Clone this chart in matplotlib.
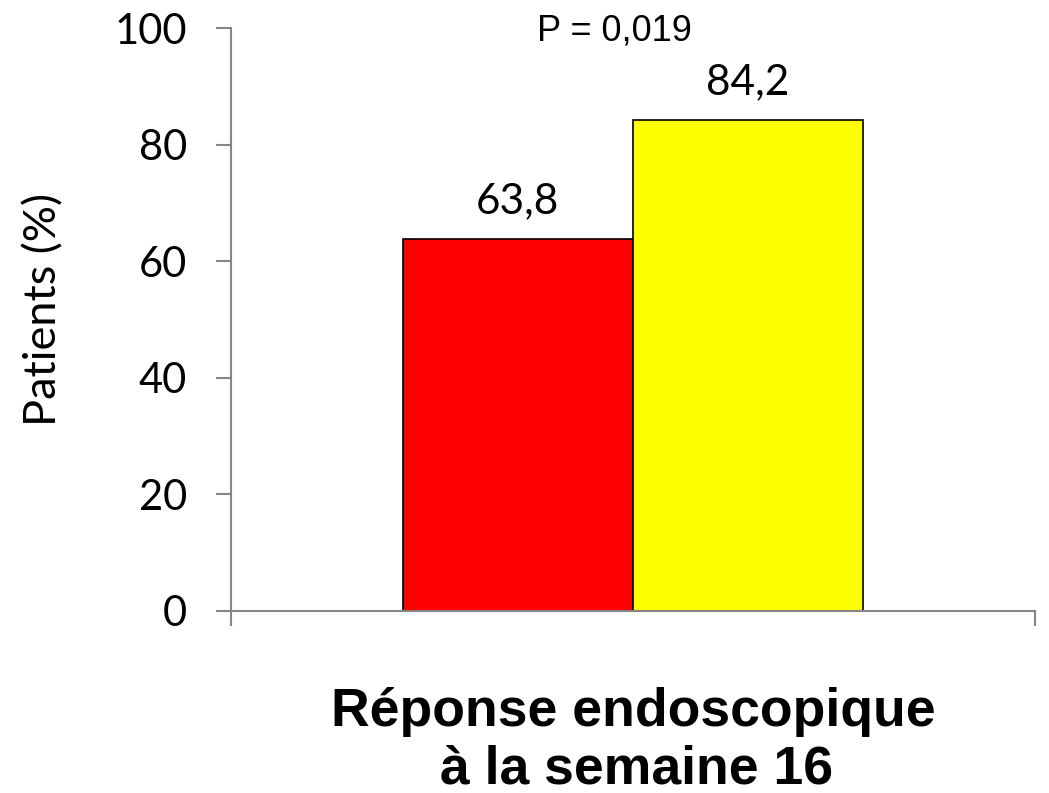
import matplotlib
matplotlib.use("Agg")
import matplotlib.pyplot as plt

# Data
groups = ["Groupe A", "Groupe B"]
values = [63.8, 84.2]
value_labels = ["63,8", "84,2"]
colors = ["#FF0000", "#FFFF00"]
yticks = [0, 20, 40, 60, 80, 100]
p_text = "P = 0,019"
xlabel_lines = ["Réponse endoscopique", "à la semaine 16"]
ylabel = "Patients (%)"

W, H, DPI = 1049, 793, 100
fig = plt.figure(figsize=(W / DPI, H / DPI), dpi=DPI)
ax = fig.add_axes([231 / W, (H - 610.7) / H, (1035 - 231) / W, (610.7 - 28) / H])

bar_w = 0.2865
centers = [0.5 - bar_w / 2, 0.5 + bar_w / 2]
ax.bar(centers, values, width=bar_w, color=colors, edgecolor="black", linewidth=1.2, zorder=3)

for x, v, lab in zip(centers, values, value_labels):
    ax.text(x, v + 3.2, lab, ha="center", va="bottom", fontsize=30.5, family="Lato")

ax.text((614 - 231) / (1035 - 231), 99.5, p_text, ha="center", va="center", fontsize=26,
        family="Liberation Sans")

ax.set_xlim(0, 1)
ax.set_ylim(0, 100)
ax.set_yticks(yticks)
ax.set_yticklabels([str(t) for t in yticks], fontsize=30, family="Lato")
ax.set_xticks([0, 1])
ax.set_xticklabels(["", ""])
ax.tick_params(axis="both", direction="out", length=10.8, width=1.5, color="#868686")
ax.tick_params(axis="y", pad=21)

for s in ["top", "right"]:
    ax.spines[s].set_visible(False)
for s in ["left", "bottom"]:
    ax.spines[s].set_color("#868686")
    ax.spines[s].set_linewidth(1.5)
    ax.spines[s].set_zorder(4)

fig.text(44 / W, 1 - 310 / H, ylabel, rotation=90, ha="center", va="center",
         fontsize=32.5, family="Lato")
fig.text(633 / W, 1 - 712 / H, xlabel_lines[0], ha="center", va="center",
         fontsize=38.5, fontweight="bold", family="Liberation Sans")
fig.text(636 / W, 1 - 770 / H, xlabel_lines[1], ha="center", va="center",
         fontsize=38.5, fontweight="bold", family="Liberation Sans")

fig.savefig("out.png", dpi=DPI)
